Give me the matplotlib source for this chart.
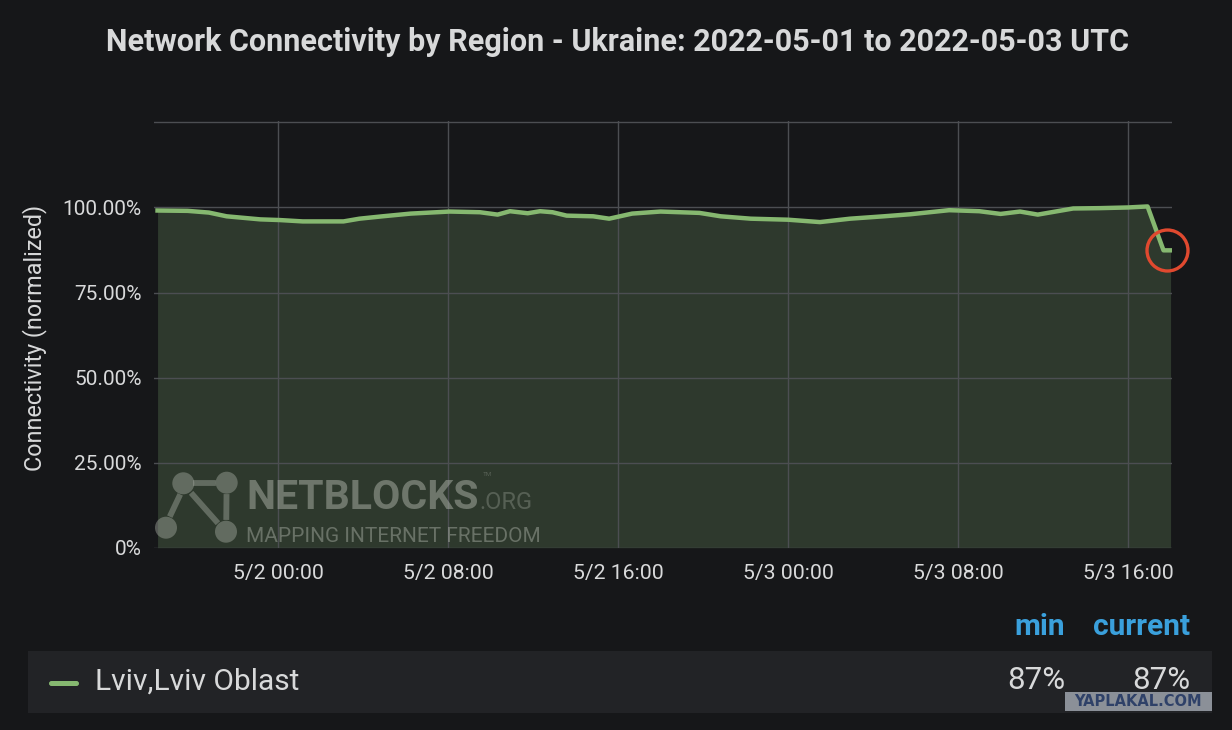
import matplotlib
matplotlib.use("Agg")
import matplotlib.pyplot as plt
import matplotlib.dates as mdates
from matplotlib.patches import Rectangle, FancyBboxPatch, Circle
from matplotlib.lines import Line2D
import pandas as pd

# ---------------- data ----------------
times = [
    "2022-05-01 18:20", "2022-05-01 19:45", "2022-05-01 20:45", "2022-05-01 21:35",
    "2022-05-01 23:10", "2022-05-02 00:05", "2022-05-02 01:10", "2022-05-02 03:05",
    "2022-05-02 03:50", "2022-05-02 04:55", "2022-05-02 06:15", "2022-05-02 08:05",
    "2022-05-02 09:30", "2022-05-02 10:20", "2022-05-02 10:55", "2022-05-02 11:45",
    "2022-05-02 12:20", "2022-05-02 12:55", "2022-05-02 13:35", "2022-05-02 14:50",
    "2022-05-02 15:35", "2022-05-02 16:40", "2022-05-02 18:00", "2022-05-02 19:50",
    "2022-05-02 20:50", "2022-05-02 22:15", "2022-05-03 00:00", "2022-05-03 01:30",
    "2022-05-03 02:55", "2022-05-03 04:30", "2022-05-03 05:45", "2022-05-03 07:35",
    "2022-05-03 09:00", "2022-05-03 10:00", "2022-05-03 10:55", "2022-05-03 11:45",
    "2022-05-03 13:25", "2022-05-03 14:40", "2022-05-03 16:00", "2022-05-03 16:55",
    "2022-05-03 17:40", "2022-05-03 18:00",
]
connectivity = [
    99.1, 99.0, 98.5, 97.4, 96.5, 96.3, 95.9, 95.9,
    96.7, 97.4, 98.2, 98.8, 98.6, 97.9, 98.9, 98.3,
    98.9, 98.6, 97.6, 97.4, 96.7, 98.2, 98.8, 98.4,
    97.4, 96.7, 96.4, 95.7, 96.7, 97.4, 98.0, 99.2,
    98.9, 98.1, 98.8, 97.9, 99.7, 99.8, 100.0, 100.3,
    87.4, 87.4,
]
series_name = "Lviv,Lviv Oblast"
yticks = [0, 25, 50, 75, 100]
ytick_labels = ["0%", "25.00%", "50.00%", "75.00%", "100.00%"]
xticks = ["2022-05-02 00:00", "2022-05-02 08:00", "2022-05-02 16:00",
          "2022-05-03 00:00", "2022-05-03 08:00", "2022-05-03 16:00"]
legend_headers = ["min", "current"]
legend_values = ["87%", "87%"]
title = "Network Connectivity by Region - Ukraine: 2022-05-01 to 2022-05-03 UTC"
ylabel = "Connectivity (normalized)"

# ---------------- style ----------------
W, H = 1232, 730
BG = "#161719"
TXT = "#d8d9da"
LINE = "#86b870"
FILL = "#2e392d"
GRID = "#4c4e52"
BLUE = "#3aa0dc"

plt.rcParams['font.family'] = ['Roboto', 'DejaVu Sans']

fig = plt.figure(figsize=(W / 100, H / 100), dpi=100, facecolor=BG)

def fx(px):
    return px / W

def fy(py):
    return 1 - py / H

left, right, top, bottom = 154, 1172, 120.7, 547.7
ax = fig.add_axes([fx(left), fy(bottom), fx(right) - fx(left), (bottom - top) / H])
ax.set_facecolor(BG)

t = pd.to_datetime(times)
ax.fill_between(t, connectivity, 0, color=FILL, lw=0, zorder=1)
ax.plot(t, connectivity, color=LINE, lw=3.2, zorder=3, solid_joinstyle='round')

ax.set_xlim(pd.Timestamp("2022-05-01 18:10"), pd.Timestamp("2022-05-03 18:04"))
ax.set_ylim(0, 125.5)

ax.set_yticks(yticks + [125])
ax.set_yticklabels(ytick_labels + [""])
ax.set_xticks(pd.to_datetime(xticks))
ax.xaxis.set_major_formatter(mdates.DateFormatter("%-m/%-d %H:%M"))

ax.grid(True, color=GRID, lw=1.0, zorder=2)
ax.set_axisbelow(False)
for s in ax.spines.values():
    s.set_visible(False)
ax.tick_params(axis='both', length=0, colors=TXT)
ax.tick_params(axis='y', pad=9, labelsize=15)
ax.tick_params(axis='x', pad=12, labelsize=15.3)

# red circle highlighting the drop
ax.plot([t[-2] + (t[-1] - t[-2]) / 2], [connectivity[-1]], 'o', ms=29.5,
        mfc='none', mec='#e0492f', mew=2.4, zorder=5, clip_on=False)

# title and y label
fig.text(fx(617), fy(42), title, ha='center', va='center', color=TXT,
         fontsize=22, fontweight='bold')
fig.text(fx(35), fy(338), ylabel, ha='center', va='center', rotation=90,
         color=TXT, fontsize=16.8)

# NETBLOCKS watermark
wm = "#a3a99f"
wma = 0.45
for (cx, cy) in [(183.3, 483.3), (226.7, 482.7), (166, 527.7), (226, 531.7)]:
    fig.patches.append(Circle((cx, H - cy), 11, transform=None, color=wm,
                              alpha=wma, lw=0, zorder=4))
for (x0, y0, x1, y1) in [(196, 483, 213, 483), (179, 497, 171, 514),
                         (193, 495, 216, 521), (226.5, 497, 226.3, 517)]:
    fig.lines.append(Line2D([x0, x1], [H - y0, H - y1], transform=None,
                            color=wm, alpha=wma, lw=4.2, zorder=4))
nb = fig.text(fx(246), fy(509), "NETBLOCKS", ha='left', va='baseline', color=wm,
              alpha=wma + 0.1, fontsize=29.5, fontweight='bold')
fig.canvas.draw()
ext = nb.get_window_extent()
org_x = ext.x1 + 1
fig.text(org_x / W, fy(509), ".ORG", ha='left', va='baseline', color=wm,
         alpha=wma - 0.1, fontsize=17)
fig.text(org_x / W + 3 / W, fy(476), "TM", ha='left', va='baseline', color=wm,
         alpha=wma - 0.1, fontsize=4.5)
fig.text(fx(246), fy(542), "MAPPING INTERNET FREEDOM", ha='left', va='baseline',
         color=wm, alpha=wma + 0.05, fontsize=15)

# legend table
fig.text(fx(1065), fy(627), legend_headers[0], ha='right', va='center',
         color=BLUE, fontsize=21.5, fontweight='bold')
fig.text(fx(1190), fy(627), legend_headers[1], ha='right', va='center',
         color=BLUE, fontsize=21.5, fontweight='bold')
fig.patches.append(Rectangle((28, H - 713), 1184, 62, transform=None,
                             color="#222326", lw=0, zorder=0))
fig.patches.append(FancyBboxPatch((49, H - 686), 30, 5, transform=None,
                                  boxstyle="round,pad=0,rounding_size=2.5",
                                  color=LINE, lw=0, zorder=1))
fig.text(fx(95), fy(682), series_name, ha='left', va='center', color=TXT,
         fontsize=21.5)
fig.text(fx(1065), fy(689), legend_values[0], ha='right', va='baseline',
         color=TXT, fontsize=22.5)
fig.text(fx(1190), fy(689), legend_values[1], ha='right', va='baseline',
         color=TXT, fontsize=22.5)

# site watermark
fig.patches.append(Rectangle((1065, H - 711), 147, 19, transform=None,
                             color="#8b9098", lw=0, zorder=6))
fig.text(fx(1138.5), fy(701.5), "YAPLAKAL.COM", ha='center', va='center',
         color="#2f4168", fontsize=10.5, fontweight='bold', zorder=7,
         family=['DejaVu Sans'])

fig.savefig("out.png", dpi=100, facecolor=BG)
